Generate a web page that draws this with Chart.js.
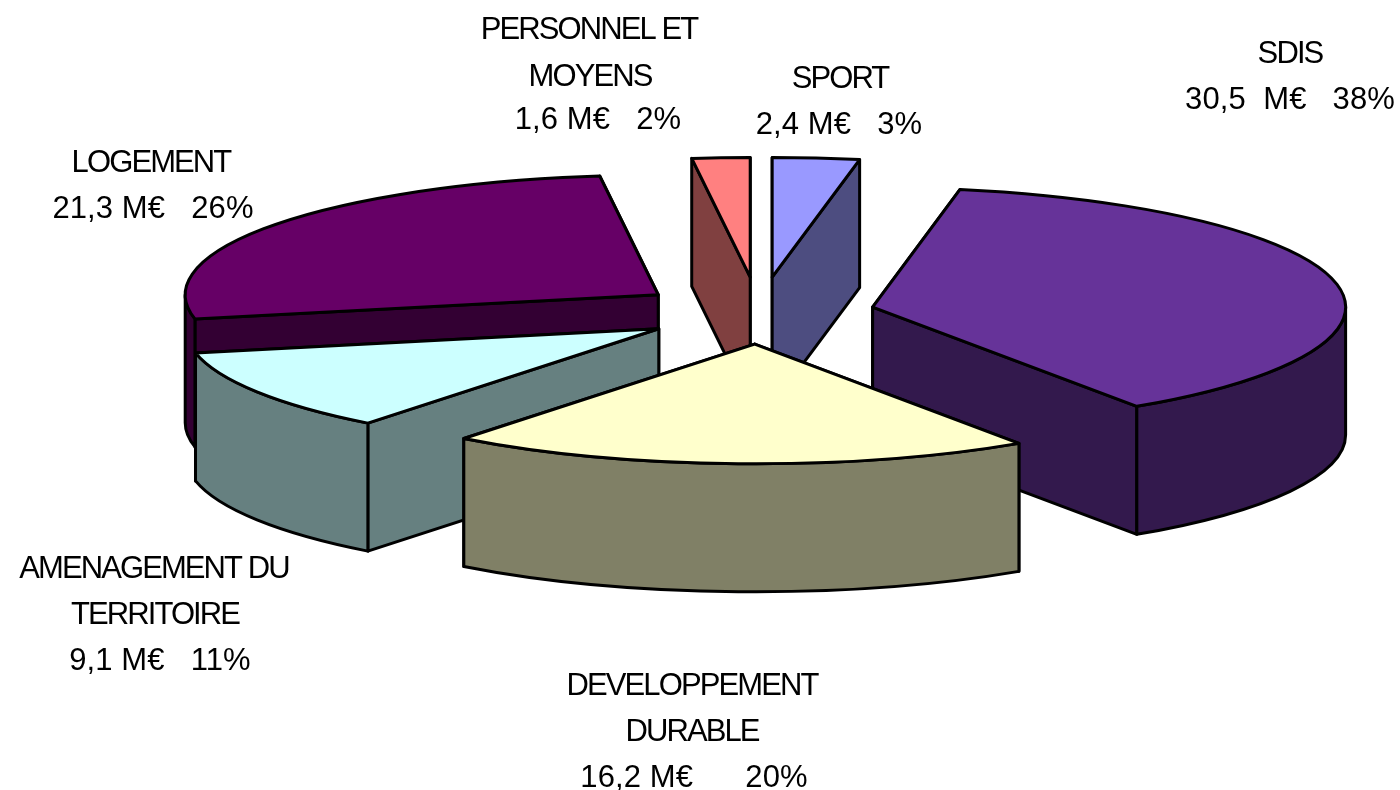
<!DOCTYPE html>
<html><head><meta charset="utf-8">
<style>html,body{margin:0;padding:0;background:#fff}#w{position:relative;width:1400px;height:790px}canvas{display:block}</style>
<script src="https://cdn.jsdelivr.net/npm/chart.js@4"></script>
</head><body><div id="w"><canvas id="c" width="1400" height="790"></canvas></div>
<script>
const categories = ["SPORT","SDIS","DEVELOPPEMENT DURABLE","AMENAGEMENT DU TERRITOIRE","LOGEMENT","PERSONNEL ET MOYENS"];
const amounts = [2.4,30.5,16.2,9.1,21.3,1.6];
const percents = [3,38,20,11,26,2];
const topColors = ["#9999FF","#663399","#FFFFCC","#CCFFFF","#660066","#FF8080"];
const wallColors = ["#4D4D80","#33194D","#808066","#668080","#330033","#804040"];

// view settings of the tilted pie
const SQUASH = 0.253, DEPTH = 128, RADIUS = 473;
const EXPLODE = [142,116,123,118,124,142];
const PAINT_ORDER = [0,5,4,1,3,2];
const FONT = '31px "Liberation Sans", Arial, sans-serif';
const LABELS = [
 {lines:["SPORT","2,4 M€   3%"], xs:[840,839], ys:[79,125]},
 {lines:["SDIS","30,5  M€   38%"], xs:[1290,1290], ys:[54,100]},
 {lines:["DEVELOPPEMENT","DURABLE","16,2 M€      20%"], xs:[692,692,694], ys:[686,732,778]},
 {lines:["AMENAGEMENT DU","TERRITOIRE","9,1 M€   11%"], xs:[154,155,160], ys:[569,615,661]},
 {lines:["LOGEMENT","21,3 M€   26%"], xs:[151,153], ys:[163,209]},
 {lines:["PERSONNEL ET","MOYENS","1,6 M€   2%"], xs:[589,590,598], ys:[30,77,120]}
];

function geom(el,i){
  const a0=el.startAngle,a1=el.endAngle,mid=(a0+a1)/2,d=EXPLODE[i];
  const ax=el.x+Math.cos(mid)*d, ay=el.y+Math.sin(mid)*d*SQUASH;
  const r=el.outerRadius, ry=r*SQUASH;
  return {a0,a1,ax,ay,r,ry,pt:(t,h=0)=>[ax+Math.cos(t)*r, ay+Math.sin(t)*ry+h]};
}
function stroke(ctx,fill){ctx.fillStyle=fill;ctx.fill();ctx.stroke();}
function radialWall(ctx,g,t,fill){
  const p=g.pt(t);
  ctx.beginPath();ctx.moveTo(g.ax,g.ay);ctx.lineTo(p[0],p[1]);
  ctx.lineTo(p[0],p[1]+DEPTH);ctx.lineTo(g.ax,g.ay+DEPTH);ctx.closePath();stroke(ctx,fill);
}
function rimWall(ctx,g,fill){
  // only the part of the rim that faces the viewer (screen angles 0..PI)
  const norm=t=>{const T=Math.PI*2;return ((t%T)+T)%T;};
  let s=norm(g.a0), e=s+(g.a1-g.a0);
  const parts=[];
  for(const k of [0,1]){
    const lo=Math.max(s,k*Math.PI*2), hi=Math.min(e,Math.PI+k*Math.PI*2);
    if(hi>lo) parts.push([lo,hi]);
  }
  for(const [lo,hi] of parts){
    ctx.beginPath();
    ctx.ellipse(g.ax,g.ay,g.r,g.ry,0,lo,hi,false);
    ctx.ellipse(g.ax,g.ay+DEPTH,g.r,g.ry,0,hi,lo,true);
    ctx.closePath();stroke(ctx,fill);
  }
}
const pie3d={
  id:'pie3d',
  beforeDatasetDraw(chart){
    const ctx=chart.ctx, arcs=chart.getDatasetMeta(0).data;
    ctx.save();ctx.lineWidth=3;ctx.strokeStyle='#000';ctx.lineJoin='round';
    for(const i of PAINT_ORDER){
      const g=geom(arcs[i],i);
      const ends=[g.a0,g.a1].sort((u,v)=>g.pt(u)[1]-g.pt(v)[1]);
      radialWall(ctx,g,ends[0],wallColors[i]);
      radialWall(ctx,g,ends[1],wallColors[i]);
      rimWall(ctx,g,wallColors[i]);
    }
    arcs.forEach((el,i)=>{
      const g=geom(el,i);
      ctx.beginPath();ctx.moveTo(g.ax,g.ay);
      ctx.ellipse(g.ax,g.ay,g.r,g.ry,0,g.a0,g.a1,false);
      ctx.closePath();stroke(ctx,el.options.backgroundColor);
    });
    ctx.restore();
    return false;
  },
  afterDraw(chart){
    const ctx=chart.ctx;
    ctx.save();ctx.font=FONT;ctx.fillStyle='#000';ctx.textAlign='center';ctx.textBaseline='middle';
    LABELS.forEach(l=>l.lines.forEach((t,j)=>{
      ctx.letterSpacing=(j===l.lines.length-1)?'0.1px':'-1.9px';
      ctx.fillText(t,l.xs[j],l.ys[j]);
    }));
    ctx.restore();
  }
};
new Chart(document.getElementById('c'),{
  type:'pie',
  data:{labels:categories,datasets:[{data:amounts,backgroundColor:topColors,borderWidth:0,clip:false}]},
  options:{
    responsive:false,animation:false,radius:RADIUS,
    layout:{padding:{left:118,bottom:164}},
    plugins:{legend:{display:false},tooltip:{enabled:false},title:{display:false}},
    events:[]
  },
  plugins:[pie3d]
});
</script></body></html>
